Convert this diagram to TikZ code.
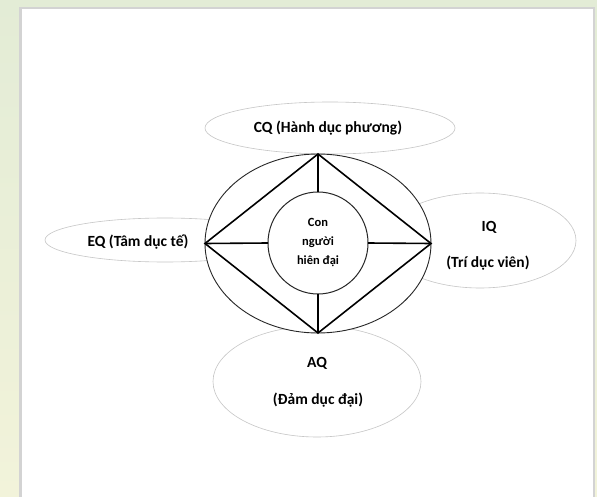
\documentclass[tikz,border=0pt]{standalone}
\usepackage{fontspec}
\setmainfont{Carlito}
\usetikzlibrary{shapes.geometric}
\definecolor{bgtop}{HTML}{E3ECD6}
\definecolor{bgbot}{HTML}{F2F3DA}
\definecolor{framegray}{HTML}{D3D3D3}
\definecolor{softline}{HTML}{C6C6C6}
\begin{document}
\begin{tikzpicture}[x=1pt,y=-1pt,
  softell/.style={ellipse, draw=softline, line width=0.6pt, inner sep=0pt, outer sep=0pt},
  bigell/.style={ellipse, draw=black!85, line width=0.9pt, fill=white, inner sep=0pt, outer sep=0pt},
  heavy/.style={line width=1.6pt, black, line join=miter},
  lbl/.style={font=\bfseries\fontsize{15.5}{18}\selectfont, inner sep=0pt}]
\useasboundingbox (0,0) rectangle (597,497);
\shade[top color=bgtop, bottom color=bgbot] (0,0) rectangle (597,497);
\fill[framegray] (19,7) rectangle (595,497);
\fill[white] (21.5,9.5) rectangle (592.5,497);

% soft ellipses
\node[softell, minimum width=250pt, minimum height=52pt] (cq) at (330,128) {};
\node[softell, minimum width=240pt, minimum height=44pt] (eq) at (165,240) {};
\node[softell, minimum width=192pt, minimum height=95pt] (iq) at (480,240.5) {};
\node[softell, minimum width=208pt, minimum height=111pt] (aq) at (317,381.5) {};

% outer ellipse
\node[bigell, minimum width=226pt, minimum height=179pt] (outer) at (318,243.5) {};

% inner ellipse
\node[bigell, line width=1pt, minimum width=100pt, minimum height=102pt, align=center,
      font=\bfseries\fontsize{12.5}{19}\selectfont] (inner) at (318,243) {Con\\người\\hiên đại};

% diamond and spokes
\draw[heavy] (outer.north) -- (outer.east) -- (outer.south) -- (outer.west) -- cycle;
\draw[heavy] (outer.north) -- (inner.north);
\draw[heavy] (outer.south) -- (inner.south);
\draw[heavy] (outer.west) -- (inner.west);
\draw[heavy] (outer.east) -- (inner.east);

% labels
\node[lbl] (cqlbl) at (328,128) {CQ (Hành dục phương)};
\node[lbl] (eqlbl) at (138,242) {EQ (Tâm dục tế)};
\node[lbl] (iqlbl) at (489,227) {IQ};
\node[lbl] (iqsub) at (488,263) {(Trí dục viên)};
\node[lbl] (aqlbl) at (317,363) {AQ};
\node[lbl] (aqsub) at (318,400) {(Đảm dục đại)};
\end{tikzpicture}
\end{document}
